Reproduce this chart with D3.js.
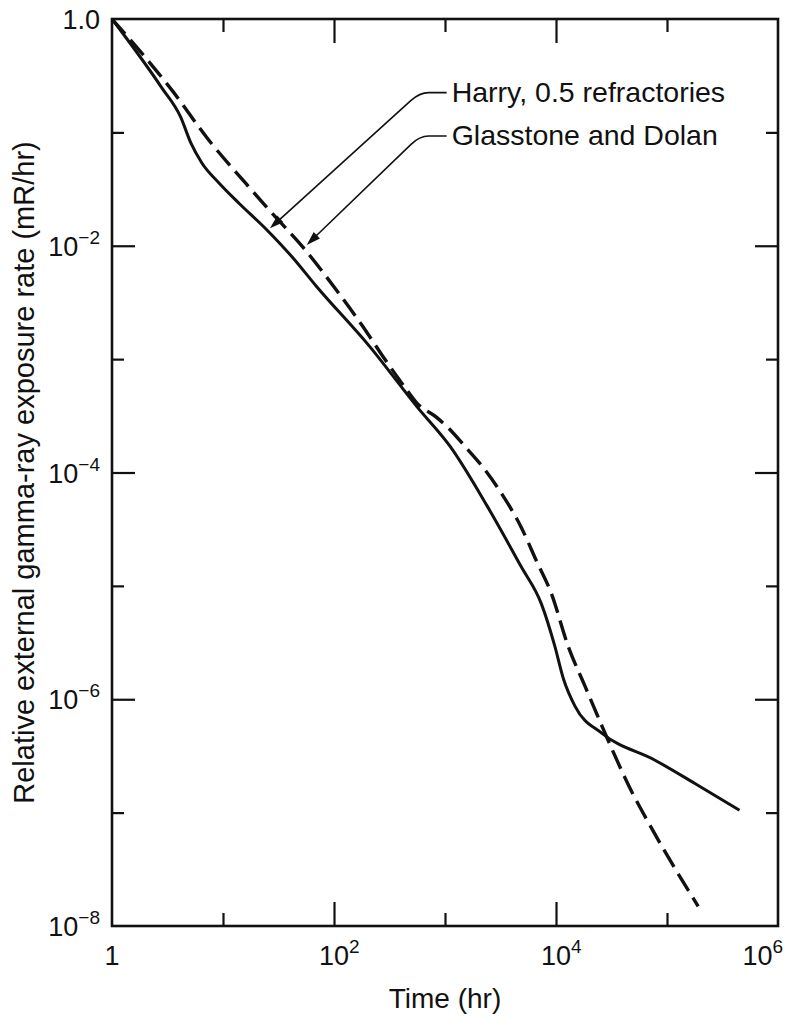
<!DOCTYPE html>
<html>
<head>
<meta charset="utf-8">
<script src="https://cdn.jsdelivr.net/npm/d3@7"></script>
<style>
  body { margin: 0; background: #fff; }
  svg text { font-family: "Liberation Sans", Arial, sans-serif; fill: #111; }
</style>
</head>
<body>
<svg id="chart" width="793" height="1023"></svg>
<script>
// Harry, 0.5 refractories (solid line)
const harryTime = [1, 2.78, 4.15, 5.13, 6.45, 9.2, 14, 24.5, 42, 69, 210, 558, 1117, 2415, 4850, 7400, 9700, 11700, 14900, 26000, 78000, 180000, 450000];
const harryRate = [1, 0.251, 0.137, 0.0807, 0.0537, 0.0358, 0.0236, 0.0140, 0.00796, 0.00442, 0.00129, 3.81e-4, 1.69e-4, 5.0e-5, 1.48e-5, 6.9e-6, 3.0e-6, 1.5e-6, 8.6e-7, 5.0e-7, 2.9e-7, 1.8e-7, 1.05e-7];

// Glasstone and Dolan (dashed line)
const gdTime = [1, 3.45, 7.43, 16, 26, 52, 105, 182, 277, 453, 558, 846, 1112, 1472, 2235, 3290, 4830, 6610, 9060, 12900, 18330, 27700, 45600, 74300, 191000];
const gdRate = [1, 0.237, 0.0857, 0.0356, 0.0207, 0.00982, 0.00407, 0.00194, 0.00105, 5.35e-4, 4.1e-4, 3.05e-4, 2.38e-4, 1.75e-4, 1.09e-4, 6.34e-5, 3.33e-5, 1.69e-5, 8.62e-6, 2.92e-6, 1.29e-6, 5.0e-7, 1.7e-7, 7.0e-8, 1.49e-8];

// tick values and labels
const xMajorTicks = [100, 1e4];
const xMinorTicks = [10, 1000, 1e5];
const yMajorTicks = [1e-2, 1e-4, 1e-6];
const yMinorTicks = [1e-1, 1e-3, 1e-5, 1e-7];
const xLabelVals = [1, 100, 1e4, 1e6];
const xLabelBase = ["1", "10", "10", "10"];
const xLabelSup = ["", "2", "4", "6"];
const yLabelVals = [1, 1e-2, 1e-4, 1e-6, 1e-8];
const yLabelBase = ["1.0", "10", "10", "10", "10"];
const yLabelSup = ["", "\u22122", "\u22124", "\u22126", "\u22128"];

// annotations: text anchor and arrow tip, in data units
const noteText = ["Harry, 0.5 refractories", "Glasstone and Dolan"];
const noteAt = [[1148, 0.1866], [1148, 0.0774]];
const noteTip = [[26.5, 0.01426], [56.8, 0.01016]];

const svg = d3.select("#chart");
const W = 793, H = 1023;
const margin = {top: 19, right: 15, bottom: 97, left: 112};

const x = d3.scaleLog().domain([1, 1e6]).range([margin.left, W - margin.right]);
const y = d3.scaleLog().domain([1e-8, 1]).range([H - margin.bottom, margin.top]);

const x0 = x.range()[0], x1 = x.range()[1];
const y0 = y.range()[1], y1 = y.range()[0];

// inward ticks on all four sides
function ticks(axis, vals, len, tr) {
  svg.append("g")
    .attr("transform", tr)
    .call(axis.tickValues(vals).tickSize(-len).tickFormat(""))
    .call(g => g.select(".domain").remove())
    .selectAll("line").attr("stroke", "#111").attr("stroke-width", 2.2);
}
ticks(d3.axisBottom(x), xMajorTicks, 24, `translate(0,${y1})`);
ticks(d3.axisBottom(x), xMinorTicks, 13, `translate(0,${y1})`);
ticks(d3.axisTop(x), xMajorTicks, 24, `translate(0,${y0})`);
ticks(d3.axisTop(x), xMinorTicks, 13, `translate(0,${y0})`);
ticks(d3.axisLeft(y), yMajorTicks, 23, `translate(${x0},0)`);
ticks(d3.axisLeft(y), yMinorTicks, 12, `translate(${x0},0)`);
ticks(d3.axisRight(y), yMajorTicks, 23, `translate(${x1},0)`);
ticks(d3.axisRight(y), yMinorTicks, 12, `translate(${x1},0)`);

svg.append("rect")
  .attr("x", x0).attr("y", y0)
  .attr("width", x1 - x0).attr("height", y1 - y0)
  .attr("fill", "none").attr("stroke", "#111").attr("stroke-width", 2.6);

// curves
const line = d3.line()
  .x(d => x(d[0]))
  .y(d => y(d[1]))
  .curve(d3.curveMonotoneX);

svg.append("path")
  .datum(d3.zip(harryTime, harryRate))
  .attr("d", line)
  .attr("fill", "none").attr("stroke", "#111").attr("stroke-width", 3);

svg.append("path")
  .datum(d3.zip(gdTime, gdRate))
  .attr("d", line)
  .attr("fill", "none").attr("stroke", "#111").attr("stroke-width", 3.4)
  .attr("stroke-dasharray", "20,8");

// y tick labels
yLabelVals.forEach((v, i) => {
  const t = svg.append("text")
    .attr("x", x0 - 12).attr("y", y(v) + 10)
    .attr("text-anchor", "end")
    .attr("font-size", 27);
  t.append("tspan").text(yLabelBase[i]);
  if (yLabelSup[i]) t.append("tspan").attr("dy", -12).attr("font-size", 19).text(yLabelSup[i]);
});

// x tick labels ("10" centred on the tick)
xLabelVals.forEach((v, i) => {
  const t = svg.append("text")
    .attr("y", y1 + 39)
    .attr("font-size", 27);
  const b = t.append("tspan").text(xLabelBase[i]);
  if (xLabelSup[i]) t.append("tspan").attr("dy", -12).attr("font-size", 19).text(xLabelSup[i]);
  const bw = b.node().getComputedTextLength();
  let tx = x(v) - bw / 2;
  const full = t.node().getComputedTextLength();
  if (tx + full > W - 10) tx = W - 10 - full;
  t.attr("x", tx);
});

// axis titles
svg.append("text")
  .attr("x", (x0 + x1) / 2).attr("y", y1 + 82)
  .attr("text-anchor", "middle").attr("font-size", 28)
  .text("Time (hr)");

svg.append("text")
  .attr("transform", `translate(34,${(y0 + y1) / 2}) rotate(-90)`)
  .attr("text-anchor", "middle").attr("font-size", 29)
  .text("Relative external gamma-ray exposure rate (mR/hr)");

// annotations with leader arrows
noteText.forEach((s, i) => {
  const tx = x(noteAt[i][0]), ty = y(noteAt[i][1]);
  svg.append("text").attr("x", tx).attr("y", ty).attr("font-size", 28.5).text(s);

  const px = x(noteTip[i][0]), py = y(noteTip[i][1]);
  const my = ty - 9, cx = tx - 32;
  const dx = px - cx, dy = py - my, len = Math.hypot(dx, dy);
  const ux = dx / len, uy = dy / len;
  svg.append("path")
    .attr("d", `M${tx - 5},${my} L${cx + 9},${my} Q${cx},${my} ${cx + ux * 12},${my + uy * 12} L${px - ux * 10},${py - uy * 10}`)
    .attr("fill", "none").attr("stroke", "#111").attr("stroke-width", 1.6);
  // arrow head
  const hl = 14, hw = 4.5;
  const bx = px - ux * hl, by = py - uy * hl;
  svg.append("path")
    .attr("d", `M${px},${py} L${bx - uy * hw},${by + ux * hw} L${bx + uy * hw},${by - ux * hw} Z`)
    .attr("fill", "#111");
});
</script>
</body>
</html>
